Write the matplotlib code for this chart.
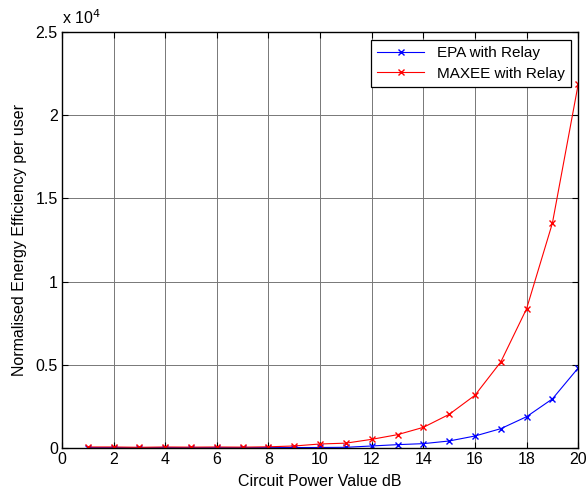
import matplotlib
matplotlib.use("Agg")
import matplotlib.pyplot as plt

plt.rcParams['font.family'] = ['Liberation Sans', 'DejaVu Sans']

x = list(range(1, 21))
epa = [20, 20, 5, 20, 15, 15, 15, 20, 25, 30, 40, 120, 200, 260, 420, 720, 1160, 1880, 2950, 4810]
maxee = [60, 60, 40, 60, 50, 60, 50, 70, 120, 240, 290, 520, 800, 1240, 2020, 3170, 5170, 8370, 13515, 21870]

yticks = [0, 5000, 10000, 15000, 20000, 25000]
ytick_labels = ['0', '0.5', '1', '1.5', '2', '2.5']
xticks = list(range(0, 21, 2))

fig = plt.figure(figsize=(5.87, 4.95), dpi=100)
ax = fig.add_axes([0.1056, 0.095, 0.8794, 0.84])

ax.plot(x, epa, color='blue', marker='x', markersize=4, linewidth=0.8, label='EPA with Relay')
ax.plot(x, maxee, color='red', marker='x', markersize=4, linewidth=0.8, label='MAXEE with Relay')

ax.set_xlim(0, 20)
ax.set_ylim(0, 25000)
ax.set_xticks(xticks)
ax.set_yticks(yticks)
ax.set_yticklabels(ytick_labels)
ax.tick_params(direction='in', labelsize=11.5, length=4, top=True, right=True, pad=3)
ax.grid(True, color='#777777', linewidth=0.7)
ax.set_axisbelow(True)
for s in ax.spines.values():
    s.set_linewidth(1.0)

ax.set_xlabel('Circuit Power Value dB', fontsize=11.5, labelpad=5)
ax.set_ylabel('Normalised Energy Efficiency per user', fontsize=11.5, labelpad=6)
ax.text(0.0, 1.012, 'x 10$^{4}$', transform=ax.transAxes, fontsize=11.5, ha='left', va='bottom')

leg = ax.legend(loc='upper right', fontsize=11, fancybox=False, edgecolor='black',
                framealpha=1, borderaxespad=0.5, handlelength=3.1, labelspacing=0.45)
leg.get_frame().set_linewidth(0.9)

fig.savefig('out.png', dpi=100)
